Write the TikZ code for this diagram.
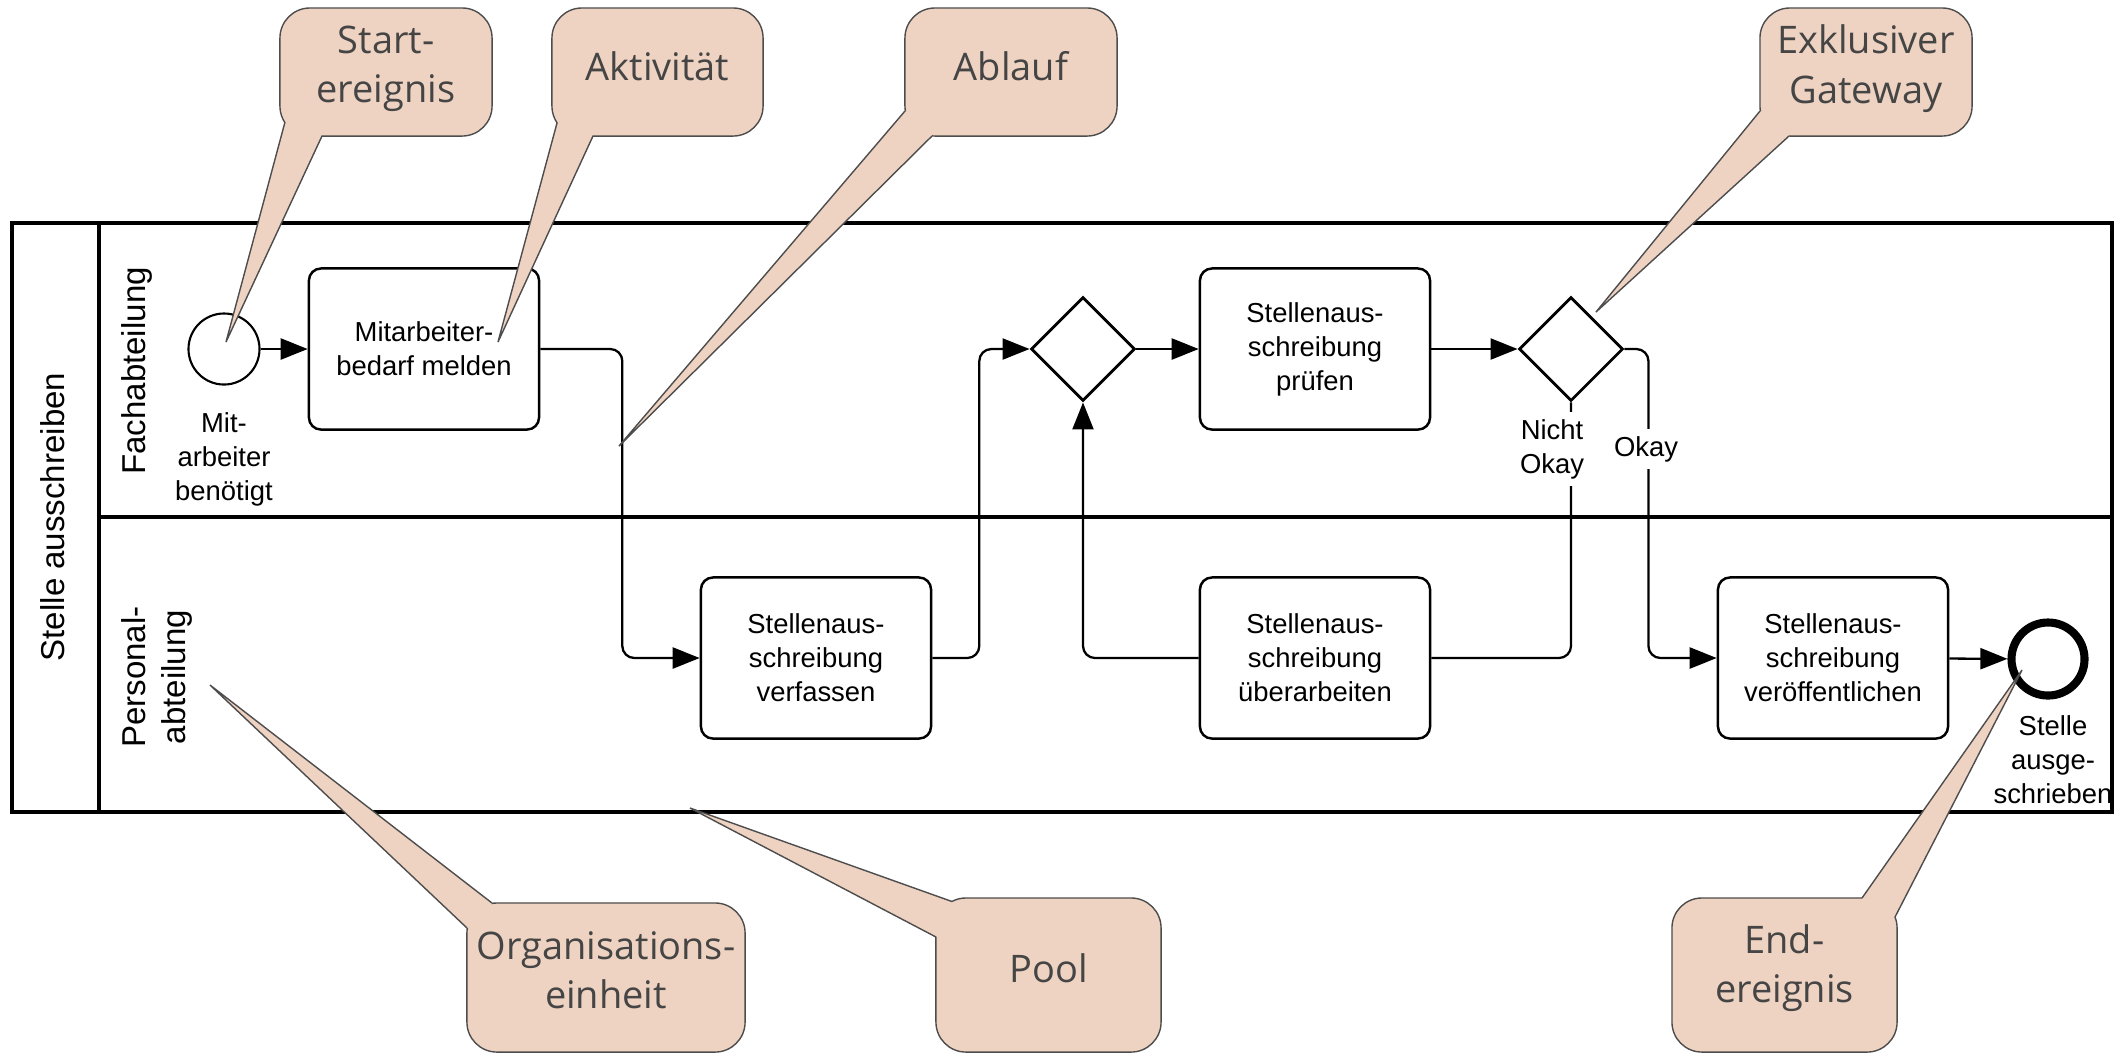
\documentclass[tikz,border=0pt]{standalone}
\usepackage{fontspec}
\setmainfont{Liberation Sans}
\newfontfamily\callfont{Open Sans}
\usetikzlibrary{arrows.meta,shapes.geometric,calc}
\definecolor{cfill}{HTML}{EFD3C2}
\definecolor{cline}{HTML}{4D4D4D}
\definecolor{ctext}{HTML}{454545}
\newcommand\bpmnboxfont{\fontsize{7.8pt}{9.7pt}\selectfont}
\newcommand\bpmnlanefont{\fontsize{9.4pt}{11.4pt}\selectfont}
\newcommand\bpmncallfont{\callfont\fontsize{10.8pt}{14pt}\selectfont}
\begin{document}
\begin{tikzpicture}[x=0.01cm,y=-0.01cm,
  task/.style={draw, line width=0.7pt, rounded corners=0.12cm, minimum width=2.3cm, minimum height=1.61cm, align=center, font=\bpmnboxfont, inner sep=0pt},
  gate/.style={draw, diamond, line width=0.8pt, minimum width=1.04cm, minimum height=1.04cm, inner sep=0pt},
  flow/.style={line width=0.65pt, -{Triangle[length=0.27cm,width=0.21cm]}, rounded corners=0.12cm},
  plainflow/.style={line width=0.65pt, rounded corners=0.12cm},
  callbox/.style={draw=cline, fill=cfill, line width=0.4pt, rounded corners=0.3cm, inner sep=0pt},
  calltext/.style={text=ctext, align=center, font=\bpmncallfont, inner sep=0pt},
  tailline/.style={draw=cline, line width=0.4pt, line join=miter},
  evlabel/.style={align=center, font=\bpmnboxfont, inner sep=0pt},
  lanelabel/.style={rotate=90, align=center, font=\bpmnlanefont, inner sep=0pt},
  gatelabel/.style={align=center, font=\bpmnboxfont, fill=white, inner sep=2pt},
]
\useasboundingbox (0,0) rectangle (2121,1053);

% pool and lanes
\coordinate (poolNW) at (12,223);
\coordinate (poolSE) at (2112,812);
\draw[line width=0.9pt] (poolNW) rectangle (poolSE);
\draw[line width=0.9pt] (99,223) -- (99,812);
\draw[line width=1.3pt] (99,517) -- (2112,517);
\node[lanelabel] (poolname) at (53,517) {Stelle ausschreiben};
\node[lanelabel] (lane1) at (137,371) {Fachabteilung};
\node[lanelabel] (lane2) at (157,677) {Personal-\\abteilung};

% events, tasks, gateways
\node[circle, draw, line width=0.6pt, minimum size=0.71cm, inner sep=0pt] (start) at (224,349) {};
\node[evlabel] (startlbl) at (224,459) {Mit-\\arbeiter\\benötigt};
\node[task] (t1) at (424,349) {Mitarbeiter-\\bedarf melden};
\node[task] (t2) at (816,658) {Stellenaus-\\schreibung\\verfassen};
\node[gate] (d1) at (1083,349) {};
\node[task] (t3) at (1315,349) {Stellenaus-\\schreibung\\prüfen};
\node[gate] (d2) at (1571,349) {};
\node[task] (t4) at (1315,658) {Stellenaus-\\schreibung\\überarbeiten};
\node[task] (t5) at (1833,658) {Stellenaus-\\schreibung\\veröffentlichen};
\node[circle, draw, line width=2.3pt, minimum size=0.73cm, inner sep=0pt] (end) at (2048,659) {};
\node[evlabel] (endlbl) at (2053,760) {Stelle\\ausge-\\schrieben};

% sequence flows
\draw[flow] (start) -- (t1);
\draw[flow] (t1.east) -- ++(82,0) |- (t2.west);
\draw[flow] (t2.east) -- ++(47,0) |- (d1.west);
\draw[flow] (d1.east) -- (t3.west);
\draw[flow] (t3.east) -- (d2.west);
\draw[plainflow] (d2.south) |- (t4.east);
\draw[flow] (t4.west) -| (d1.south);
\draw[flow] (d2.east) -- ++(24,0) |- (t5.west);
\draw[flow] (t5) -- (end);
\node[gatelabel] (nok) at (1552,449) {Nicht\\Okay};
\node[gatelabel] (ok) at (1646,449) {Okay};

% callouts
\node[callbox, minimum width=2.12cm, minimum height=1.28cm] (cStart) at (386,72) {};
\fill[cfill] (285,122) -- (226,342) -- (322,136) -- (305,120) -- cycle;
\draw[tailline] (285,122) -- (226,342) -- (322,136);
\node[calltext] (cStartT) at (386,68.5) {Start-\\ereignis};

\node[callbox, minimum width=2.11cm, minimum height=1.28cm] (cAkt) at (657.5,72) {};
\fill[cfill] (557,123) -- (498,342) -- (593,136) -- (577,120) -- cycle;
\draw[tailline] (557,123) -- (498,342) -- (593,136);
\node[calltext] (cAktT) at (657.5,66) {Aktivität};

\node[callbox, minimum width=2.12cm, minimum height=1.28cm] (cAbl) at (1011,72) {};
\fill[cfill] (905,111) -- (619,446) -- (932,136) -- (925,118) -- cycle;
\draw[tailline] (905,111) -- (619,446) -- (932,136);
\node[calltext] (cAblT) at (1011,66) {Ablauf};

\node[callbox, minimum width=2.12cm, minimum height=1.28cm] (cGat) at (1866,72) {};
\fill[cfill] (1760,111) -- (1596,312) -- (1789,136) -- (1780,118) -- cycle;
\draw[tailline] (1760,111) -- (1596,312) -- (1789,136);
\node[calltext] (cGatT) at (1866,68.5) {Exklusiver\\Gateway};

\node[callbox, minimum width=2.78cm, minimum height=1.49cm] (cOrg) at (606,977.5) {};
\fill[cfill] (492,903) -- (210,685) -- (467,928) -- (487,923) -- cycle;
\draw[tailline] (492,903) -- (210,685) -- (467,928);
\node[calltext] (cOrgT) at (606,970) {Organisations-\\einheit};

\node[callbox, minimum width=2.25cm, minimum height=1.54cm] (cPool) at (1048.5,975) {};
\fill[cfill] (952,901.5) -- (690,808) -- (936,937) -- (956,925) -- cycle;
\draw[tailline] (952,901.5) -- (690,808) -- (936,937);
\node[calltext] (cPoolT) at (1048.5,968) {Pool};

\node[callbox, minimum width=2.25cm, minimum height=1.54cm] (cEnd) at (1784.5,975) {};
\fill[cfill] (1862,898) -- (2022,670) -- (1895,917) -- (1878,915) -- cycle;
\draw[tailline] (1862,898) -- (2022,670) -- (1895,917);
\node[calltext] (cEndT) at (1784.5,968) {End-\\ereignis};
\end{tikzpicture}
\end{document}
